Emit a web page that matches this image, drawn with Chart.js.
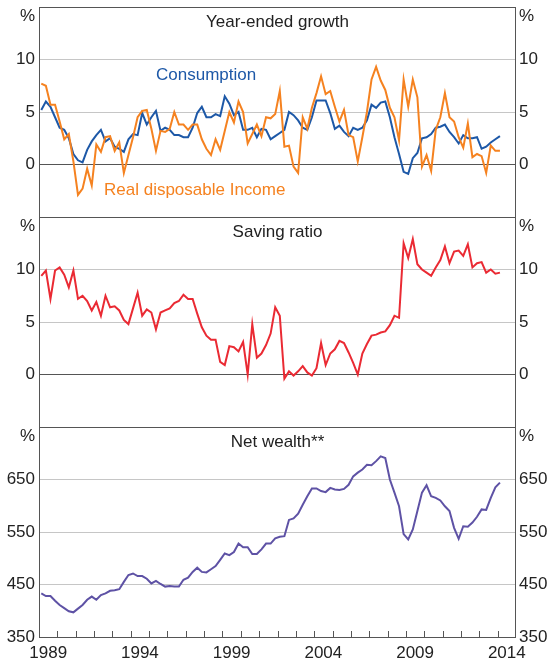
<!DOCTYPE html>
<html>
<head>
<meta charset="utf-8">
<script src="https://cdn.jsdelivr.net/npm/chart.js@4.4.1/dist/chart.umd.min.js"></script>
<style>
html,body{margin:0;padding:0;background:#fff;}
#wrap{position:relative;width:548px;height:665px;overflow:hidden;font-family:"Liberation Sans",Arial,sans-serif;}
#wrap canvas{position:absolute;left:0;}
.lbl{position:absolute;font-size:17px;line-height:17px;white-space:nowrap;color:#222;}
.ttl{left:39px;width:477px;text-align:center;}
</style>
</head>
<body>
<div id="wrap">
  <canvas id="c1" width="548" height="220" style="top:0px"></canvas>
  <canvas id="c2" width="548" height="220" style="top:210px"></canvas>
  <canvas id="c3" width="548" height="245" style="top:420px"></canvas>
  <div class="lbl ttl" style="top:13px">Year-ended growth</div>
  <div class="lbl ttl" style="top:223px">Saving ratio</div>
  <div class="lbl ttl" style="top:433px">Net wealth**</div>
  <div class="lbl" style="left:156px;top:66px;color:#1d58a7">Consumption</div>
  <div class="lbl" style="left:104px;top:181px;color:#f58220">Real disposable Income</div>
</div>
<script>
// ---------- DATA ----------
// quarterly observations, 1989Q1 .. 2014Q1
const quarters = [];
for (let y = 1989; y <= 2014; y++) for (let q = 1; q <= 4; q++) { if (y === 2014 && q > 1) break; quarters.push(y + 'Q' + q); }

const consumption = [
  5.2, 6.0, 5.5, 4.5, 3.5, 3.3, 2.5, 1.0, 0.4, 0.2,
  1.4, 2.2, 2.8, 3.3, 2.2, 2.5, 1.7, 1.5, 1.2, 2.4,
  2.9, 2.8, 4.9, 3.8, 4.5, 5.1, 3.2, 3.5, 3.3, 2.8,
  2.8, 2.6, 2.6, 3.5, 4.9, 5.5, 4.5, 4.5, 4.8, 4.6,
  6.5, 5.8, 4.7, 5.0, 3.3, 3.3, 3.5, 2.6, 3.4, 3.3,
  2.4, 2.7, 3.0, 3.3, 5.0, 4.7, 4.2, 3.5, 3.3, 4.5,
  6.1, 6.1, 6.1, 4.9, 3.4, 3.7, 3.1, 2.7, 3.5, 3.3,
  3.5, 4.2, 5.7, 5.4, 5.9, 6.0, 4.5, 2.6, 1.0, -0.7,
  -0.9, 0.6, 1.1, 2.5, 2.6, 2.9, 3.5, 3.6, 3.8, 3.1,
  2.6, 2.0, 2.8, 2.5, 2.5, 2.6, 1.5, 1.7, 2.1, 2.4,
  2.7
];
const realDisposableIncome = [
  7.7, 7.5, 5.7, 5.7, 4.1, 2.4, 2.9, 0.3, -2.9, -2.3,
  -0.4, -2.0, 1.9, 1.2, 2.6, 2.7, 1.3, 2.1, -0.8, 0.9,
  2.6, 4.5, 5.1, 5.2, 3.4, 1.3, 3.2, 3.1, 3.4, 5.0,
  3.8, 3.8, 3.3, 3.8, 3.8, 2.4, 1.5, 0.9, 2.4, 1.4,
  3.2, 5.0, 4.0, 6.0, 5.0, 2.0, 2.9, 3.8, 2.7, 4.5,
  4.4, 4.8, 7.0, 1.7, 1.8, -0.2, -0.8, 4.5, 3.4, 5.4,
  6.8, 8.4, 6.7, 7.0, 5.5, 4.1, 5.2, 2.8, 2.6, 0.3,
  2.6, 5.0, 8.1, 9.3, 8.0, 7.1, 5.4, 4.5, 2.3, 8.1,
  5.5, 8.1, 6.4, -0.2, 0.9, -0.6, 3.3, 4.5, 6.8, 4.5,
  4.1, 2.6, 1.6, 3.9, 0.7, 1.0, 0.8, -0.8, 1.8, 1.3,
  1.3
];
const savingRatio = [
  9.4, 9.9, 7.2, 9.9, 10.2, 9.5, 8.3, 9.9, 7.2, 7.5,
  7.0, 6.1, 6.9, 5.6, 7.5, 6.4, 6.5, 6.1, 5.2, 4.8,
  6.3, 7.8, 5.6, 6.2, 5.9, 4.3, 5.9, 6.1, 6.3, 6.8,
  7.0, 7.6, 7.2, 7.2, 5.8, 4.5, 3.7, 3.3, 3.3, 1.2,
  0.9, 2.7, 2.6, 2.2, 3.1, 0.0, 4.8, 1.6, 2.0, 2.8,
  3.9, 6.4, 5.6, -0.4, 0.3, -0.1, 0.3, 0.8, 0.2, -0.1,
  0.6, 3.0, 0.9, 2.0, 2.4, 3.2, 3.0, 2.1, 1.1, 0.0,
  2.0, 2.9, 3.7, 3.8, 4.0, 4.1, 4.7, 5.6, 5.4, 12.5,
  11.1, 12.9, 10.5, 10.0, 9.7, 9.4, 10.2, 10.9, 12.2, 10.6,
  11.7, 11.8, 11.3, 12.4, 10.2, 10.6, 10.7, 9.7, 10.0, 9.6,
  9.7
];
const netWealth = [
  433, 428, 428, 419, 411, 405, 399, 397, 404, 411,
  421, 427, 421, 430, 433, 438, 439, 441, 455, 468,
  471, 466, 466, 461, 452, 457, 451, 446, 447, 446,
  446, 459, 463, 474, 482, 474, 473, 479, 485, 497,
  509, 506, 512, 528, 521, 521, 508, 508, 517, 528,
  528, 538, 541, 542, 573, 576, 585, 602, 618, 633,
  633, 628, 626, 634, 631, 630, 632, 640, 656, 663,
  669, 678, 677, 685, 694, 691, 650, 625, 599, 546,
  536, 555, 590, 625, 639, 618, 615, 610, 599, 590,
  558, 537, 561, 560, 568, 579, 593, 592, 615, 635,
  644
];
const growthTicks = [0, 5, 10];
const wealthTicks = [350, 450, 550, 650];
const yearLabels = ['1989', '1994', '1999', '2004', '2009', '2014'];

// ---------- helpers ----------
const FONT = '"Liberation Sans", Arial, sans-serif';
Chart.defaults.font.family = FONT;
Chart.defaults.font.size = 17;
Chart.defaults.color = '#222';

function quarterToYear(q) { return +q.slice(0, 4) + (+q.slice(5) - 1) * 0.25 + 0.125; }
const qx = quarters.map(quarterToYear);
function series(vals) { return vals.map((v, i) => ({ x: qx[i], y: v })); }

const framePlugin = {
  id: 'frame',
  afterDraw(chart, args, opts) {
    const { ctx, chartArea: a } = chart;
    ctx.save();
    ctx.strokeStyle = '#555';
    ctx.lineWidth = 1;
    ctx.strokeRect(a.left + 0.5, a.top + 0.5, a.right - a.left - 1, a.bottom - a.top);
    if (opts.yearTicks) {
      const xs = chart.scales.x;
      ctx.beginPath();
      for (let y = 1990; y <= 2014; y++) {
        const px = Math.round(xs.getPixelForValue(y)) + 0.5;
        ctx.moveTo(px, a.bottom);
        ctx.lineTo(px, a.bottom - 6);
      }
      ctx.stroke();
    }
    ctx.restore();
  }
};

function noPad(s) { s.paddingTop = 0; s.paddingBottom = 0; s.paddingLeft = 0; s.paddingRight = 0; }

function yAxes(min, max, tickVals, pctVal, zeroVal) {
  const ticksFn = s => { s.ticks = tickVals.concat([pctVal]).map(v => ({ value: v })); };
  const lbl = v => (v === pctVal ? '%' : String(v));
  return {
    y: {
      position: 'left', min, max,
      afterFit(s) { s.width = 39; noPad(s); },
      afterBuildTicks: ticksFn,
      ticks: { callback: lbl, padding: 4, autoSkip: false, color: '#222' },
      grid: {
        drawTicks: false, lineWidth: 1,
        color: c => (c.tick.value === zeroVal ? '#555' :
          (c.tick.value === pctVal || c.tick.value === min) ? 'rgba(0,0,0,0)' : '#c6c6c6')
      },
      border: { display: false }
    },
    yr: {
      position: 'right', min, max,
      afterFit(s) { s.width = 32; noPad(s); },
      afterBuildTicks: ticksFn,
      ticks: { callback: lbl, padding: 3, autoSkip: false, color: '#222' },
      grid: { display: false, drawTicks: false },
      border: { display: false }
    }
  };
}

function makeChart(id, datasets, scales, padBottom, frameOpts) {
  return new Chart(document.getElementById(id), {
    type: 'line',
    data: { datasets },
    options: {
      responsive: false, animation: false,
      layout: { padding: { top: 7, bottom: padBottom, left: 0, right: 0 } },
      plugins: { legend: { display: false }, tooltip: { enabled: false }, frame: frameOpts },
      elements: { point: { radius: 0 }, line: { tension: 0, borderWidth: 2 } },
      scales
    },
    plugins: [framePlugin]
  });
}

const hiddenX = { type: 'linear', min: 1989, max: 2015, display: false };

// Panel 1: year-ended growth
makeChart('c1', [
  { data: series(realDisposableIncome), borderColor: '#f58220', yAxisID: 'y' },
  { data: series(consumption), borderColor: '#1d58a7', yAxisID: 'y' }
], Object.assign({ x: hiddenX }, yAxes(-5, 15, growthTicks, 14.14, 0)), 3, {});

// Panel 2: saving ratio
makeChart('c2', [
  { data: series(savingRatio), borderColor: '#ea2a33', yAxisID: 'y' }
], Object.assign({ x: hiddenX }, yAxes(-5, 15, growthTicks, 14.14, 0)), 3, {});

// Panel 3: net wealth
makeChart('c3', [
  { data: series(netWealth), borderColor: '#5e52a5', yAxisID: 'y' }
], Object.assign({
  x: {
    type: 'linear', min: 1989, max: 2015, position: 'bottom',
    afterFit(s) { s.height = 28; noPad(s); },
    afterBuildTicks(s) { s.ticks = yearLabels.map(l => ({ value: +l + 0.5 })); },
    ticks: { callback: v => String(Math.floor(v)), padding: 6, autoSkip: false, maxRotation: 0, color: '#222' },
    grid: { display: false, drawTicks: false },
    border: { display: false }
  }
}, yAxes(350, 750, wealthTicks, 733.2, null)), 0, { yearTicks: true });
</script>
</body>
</html>
